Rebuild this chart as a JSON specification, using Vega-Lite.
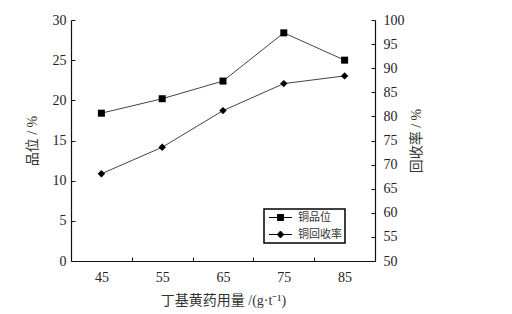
{
  "$schema": "https://vega.github.io/schema/vega-lite/v6.json",
  "width": 304,
  "height": 241,
  "autosize": "none",
  "padding": {"left": 71, "top": 20, "right": 137, "bottom": 53},
  "background": "white",
  "config": {
    "view": {"stroke": null},
    "font": "Liberation Serif",
    "axis": {
      "grid": false,
      "domainColor": "#111",
      "domainWidth": 1.2,
      "tickColor": "#111",
      "tickWidth": 1,
      "tickSize": -4,
      "labelFont": "Liberation Serif",
      "labelFontSize": 14,
      "labelColor": "#222",
      "titleFont": "Liberation Serif, Noto Sans CJK SC",
      "titleFontSize": 14,
      "titleFontWeight": "normal",
      "titleColor": "#333"
    },
    "legend": {
      "orient": "none",
      "legendX": 193,
      "legendY": 189,
      "title": null,
      "strokeColor": "black",
      "strokeWidth": 1.5,
      "fillColor": "white",
      "padding": 3,
      "symbolSize": 100,
      "symbolStrokeWidth": 1,
      "symbolOpacity": 1,
      "rowPadding": 5,
      "labelOffset": 20,
      "labelFont": "Noto Sans CJK SC",
      "labelFontSize": 11,
      "labelColor": "#333"
    }
  },
  "data": {
    "values": [
      {"dose": 45, "grade": 18.4, "recovery": 68.1},
      {"dose": 55, "grade": 20.2, "recovery": 73.6},
      {"dose": 65, "grade": 22.4, "recovery": 81.2},
      {"dose": 75, "grade": 28.4, "recovery": 86.8},
      {"dose": 85, "grade": 25.0, "recovery": 88.4}
    ]
  },
  "encoding": {
    "x": {
      "field": "dose",
      "type": "quantitative",
      "scale": {"domain": [40, 90], "nice": false, "zero": false},
      "axis": {
        "values": [45, 50, 55, 60, 65, 70, 75, 80, 85],
        "labelExpr": "datum.value % 10 == 5 ? datum.label : ''",
        "tickOpacity": {"condition": {"test": "datum.value % 10 == 5", "value": 0}, "value": 1},
        "labelPadding": 13,
        "titlePadding": 9,
        "title": "丁基黄药用量 /(g·t⁻¹)"
      }
    }
  },
  "layer": [
    {
      "encoding": {
        "y": {
          "field": "grade",
          "type": "quantitative",
          "scale": {"domain": [0, 30], "nice": false},
          "axis": {
            "orient": "left",
            "values": [0, 5, 10, 15, 20, 25, 30],
            "labelPadding": 9,
            "titlePadding": 13,
            "title": "品位 / %"
          }
        }
      },
      "layer": [
        {"mark": {"type": "line", "color": "#444", "strokeWidth": 1}},
        {"mark": {"type": "point", "shape": "square", "filled": true, "size": 49, "color": "black", "opacity": 1}}
      ]
    },
    {
      "encoding": {
        "y": {
          "field": "recovery",
          "type": "quantitative",
          "scale": {"domain": [50, 100], "nice": false, "zero": false},
          "axis": {
            "orient": "right",
            "values": [50, 55, 60, 65, 70, 75, 80, 85, 90, 95, 100],
            "labelPadding": 12,
            "titlePadding": 5,
            "titleAngle": 270,
            "titleBaseline": "top",
            "title": "回收率 / %"
          }
        }
      },
      "layer": [
        {"mark": {"type": "line", "color": "#444", "strokeWidth": 1}},
        {"mark": {"type": "point", "shape": "diamond", "filled": true, "size": 55, "color": "black", "opacity": 1}}
      ]
    },
    {
      "transform": [{"filter": "datum.dose < 0"}],
      "mark": {"type": "point", "filled": true, "fill": "black", "stroke": "black", "strokeWidth": 1, "opacity": 1},
      "encoding": {
        "shape": {
          "field": "series",
          "type": "nominal",
          "scale": {
            "domain": ["铜品位", "铜回收率"],
            "range": [
              "M-0.7,0H3.9M1,-0.6H2.2V0.6H1Z",
              "M-0.7,0H3.9M1.6,-0.7L2.25,0L1.6,0.7L0.95,0Z"
            ]
          },
          "legend": {}
        }
      }
    }
  ],
  "resolve": {"scale": {"y": "independent"}, "axis": {"y": "independent"}}
}
